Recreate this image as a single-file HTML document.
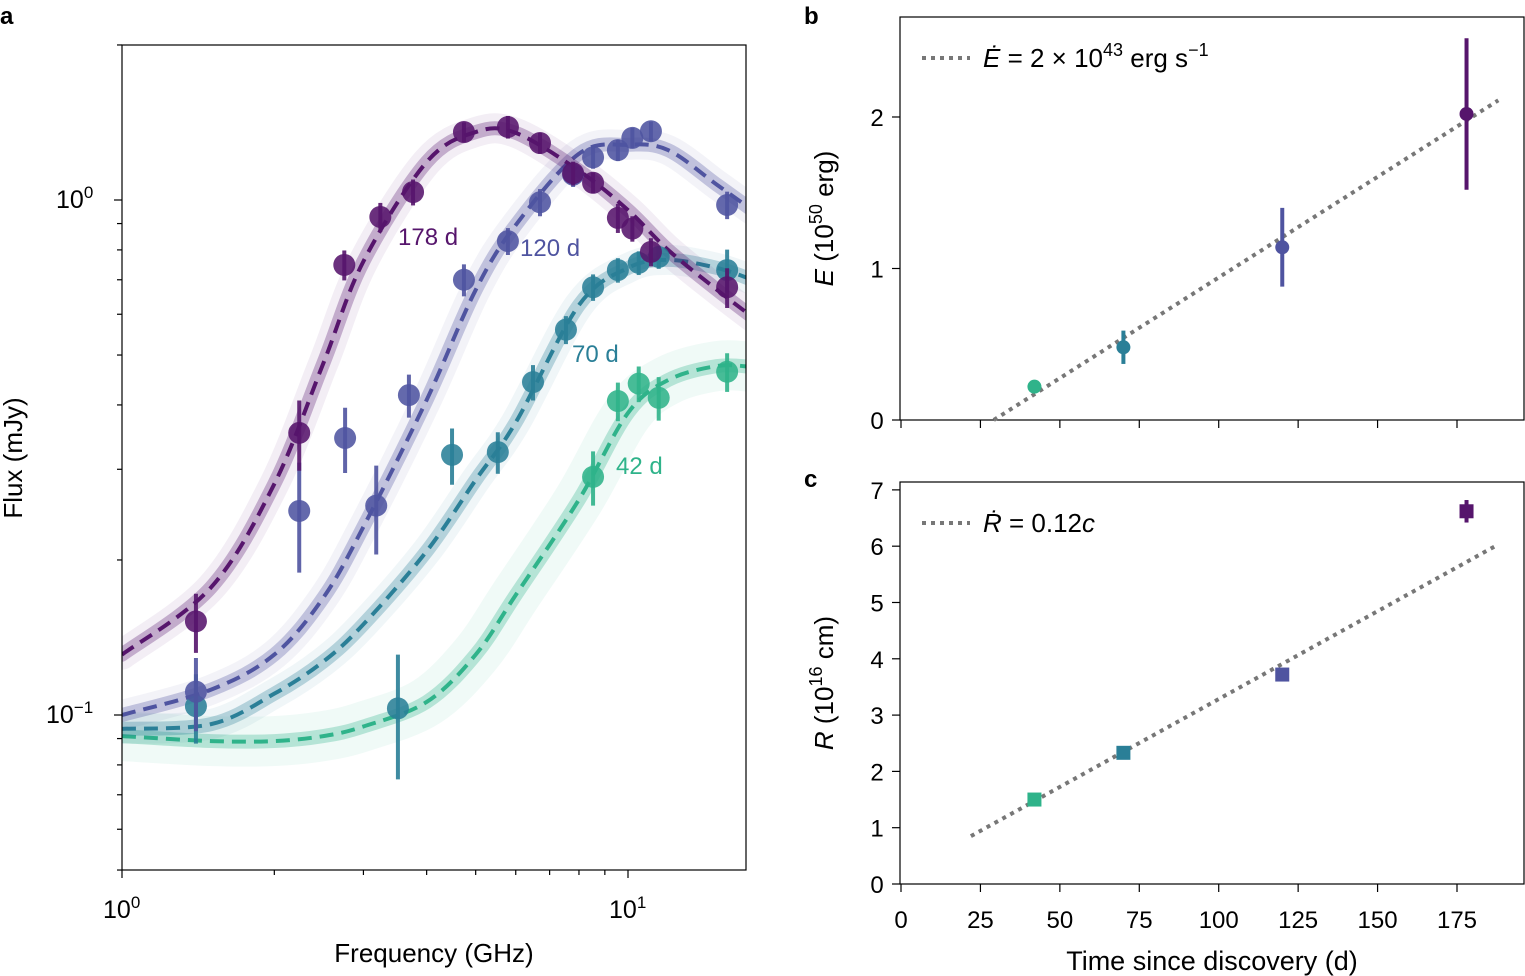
<!DOCTYPE html>
<html><head><meta charset="utf-8"><style>
html,body{margin:0;padding:0;background:#fff}
svg{display:block;font-family:"Liberation Sans",sans-serif}
</style></head><body>
<svg id="fig" width="1525" height="976" viewBox="0 0 1525 976">
<text x="0" y="24" font-size="24" font-weight="bold">a</text>
<text x="804" y="24" font-size="24" font-weight="bold">b</text>
<text x="804" y="487" font-size="24" font-weight="bold">c</text>
<g id="pa"></g>
<g id="pb"></g>
<g id="pc"></g>
</svg>
<script>
// ---------- Panel a data ----------
const epochs = ['178 d','120 d','70 d','42 d'];
const colors = ['#56156c','#4f54a0','#2a7f97','#2fb38a'];
const curveFreq = [1,1.5,2,2.5,3,4,5,6,8,10,12,15,17.6];
const curve178 = [0.131,0.177,0.281,0.482,0.76,1.185,1.355,1.35,1.14,0.956,0.80,0.669,0.593];
const curve120 = [0.100,0.112,0.131,0.169,0.232,0.409,0.669,0.894,1.23,1.28,1.25,1.07,0.956];
const curve70 = [0.094,0.096,0.110,0.127,0.150,0.208,0.286,0.37,0.625,0.738,0.765,0.738,0.70];
const curve42 = [0.091,0.089,0.089,0.091,0.095,0.106,0.131,0.171,0.262,0.386,0.447,0.476,0.474];
const freq178 = [1.40,2.24,2.75,3.24,3.76,4.74,5.79,6.70,7.79,8.53,9.55,10.2,11.1,15.7];
const flux178 = [0.152,0.353,0.748,0.927,1.036,1.355,1.386,1.29,1.127,1.08,0.923,0.88,0.793,0.677];
const err178 = [0.02,0.055,0.05,0.06,0.06,0.06,0.07,0.06,0.06,0.05,0.06,0.05,0.05,0.06];
const freq120 = [1.40,2.24,2.76,3.18,3.69,4.74,5.79,6.70,7.79,8.53,9.55,10.2,11.1,15.7];
const flux120 = [0.111,0.249,0.345,0.255,0.418,0.70,0.832,0.99,1.12,1.21,1.25,1.32,1.36,0.978];
const err120 = [0.018,0.06,0.05,0.05,0.04,0.05,0.05,0.06,0.06,0.06,0.06,0.06,0.06,0.06];
const freq70 = [1.40,3.51,4.49,5.53,6.49,7.54,8.53,9.55,10.5,11.5,15.7];
const flux70 = [0.104,0.103,0.32,0.324,0.443,0.56,0.677,0.731,0.755,0.775,0.731];
const err70 = [0.016,0.028,0.04,0.03,0.035,0.035,0.04,0.04,0.04,0.04,0.07];
const freq42 = [8.53,9.55,10.5,11.5,15.7];
const flux42 = [0.29,0.407,0.44,0.413,0.464];
const err42 = [0.035,0.035,0.035,0.04,0.04];
const xTicksA = ['0','1'];
const yTicksA = ['0','−1'];

// ---------- Panel b/c data ----------
const days = [42,70,120,178];
const energy = [0.22,0.48,1.14,2.02];
const energyErr = [0.04,0.11,0.26,0.5];
const eLineT = [29.2,188];
const eLineV = [0,2.11];
const radius = [1.5,2.33,3.72,6.62];
const radiusErr = [0.05,0.07,0.1,0.2];
const rLineT = [22,187];
const rLineV = [0.85,6.0];
const timeTicks = [0,25,50,75,100,125,150,175];
const eTicks = [0,1,2];
const rTicks = [0,1,2,3,4,5,6,7];

const NS='http://www.w3.org/2000/svg';
function mk(parent,tag,attrs,text){const e=document.createElementNS(NS,tag);for(const k in attrs)e.setAttribute(k,attrs[k]);if(text!==undefined)e.textContent=text;parent.appendChild(e);return e;}

const AX0=122,AX1=746,AY0=45,AY1=870;
const xa=f=>122+506*Math.log10(f);
const ya=v=>200-515*Math.log10(v);
const pa=document.getElementById('pa');
const clipDefs=mk(pa,'defs',{});
const cp=mk(clipDefs,'clipPath',{id:'clipA'});
mk(cp,'rect',{x:AX0,y:AY0,width:AX1-AX0,height:AY1-AY0});
function smoothPath(pts){let d='M'+pts[0][0]+','+pts[0][1];for(let i=0;i<pts.length-1;i++){const p0=pts[i-1]||pts[i],p1=pts[i],p2=pts[i+1],p3=pts[i+2]||p2;const c1=[p1[0]+(p2[0]-p0[0])/6,p1[1]+(p2[1]-p0[1])/6],c2=[p2[0]-(p3[0]-p1[0])/6,p2[1]-(p3[1]-p1[1])/6];d+=' C'+c1+' '+c2+' '+p2;}return d;}
const curves=[curve178,curve120,curve70,curve42];
const pts=[[freq178,flux178,err178],[freq120,flux120,err120],[freq70,flux70,err70],[freq42,flux42,err42]];
const gA=mk(pa,'g',{'clip-path':'url(#clipA)'});
for(let k=3;k>=0;k--){
  const p=curveFreq.map((f,i)=>[xa(f),ya(curves[k][i])]);
  const d=smoothPath(p);
  const halo=mk(gA,'path',{d:d,fill:'none',stroke:colors[k],'stroke-width':k==3?50:30,'stroke-opacity':0.07,'stroke-linecap':'round'});
  
  
  const band=mk(gA,'path',{d:d,fill:'none',stroke:colors[k],'stroke-width':14,'stroke-opacity':0.3,'stroke-linecap':'round'});
  
  
  const ln=mk(gA,'path',{d:d,fill:'none',stroke:colors[k],'stroke-width':4,'stroke-dasharray':'14 8'});
  
  
}
for(let k=3;k>=0;k--){
  const [fr,fl,er]=pts[k];
  fr.forEach((f,i)=>{
    const x=xa(f);
    const eb=mk(gA,'line',{x1:x,x2:x,y1:ya(fl[i]+er[i]),y2:ya(Math.max(fl[i]-er[i],0.01)),stroke:colors[k],'stroke-width':4,opacity:0.9});
    
    
    const c=mk(gA,'circle',{cx:x,cy:ya(fl[i]),r:11,fill:colors[k],'fill-opacity':0.88});
    
    
  });
}
mk(pa,'rect',{x:AX0,y:AY0,width:AX1-AX0,height:AY1-AY0,fill:'none',stroke:'#000','stroke-width':1.2,});
const lblPos=[[398,245],[520,256],[572,362],[616,474]];
epochs.forEach((e,k)=>{const t=mk(pa,'text',{x:lblPos[k][0],y:lblPos[k][1],'font-size':24,fill:colors[k]},e);

});
for(let dec=0;dec<2;dec++){for(let m=1;m<10;m++){const f=m*Math.pow(10,dec);if(f>17.6)break;const x=xa(f);mk(pa,'line',{x1:x,x2:x,y1:AY1,y2:AY1+(m==1?8:5),stroke:'#000','stroke-width':1.2});}}
xTicksA.forEach((t,i)=>{const x=xa(Math.pow(10,i));const tx=mk(pa,'text',{x:x-19,y:918,'font-size':25},'10');mk(tx,'tspan',{dy:-10,'font-size':17},t);

});
for(let dec=-2;dec<1;dec++){for(let m=1;m<10;m++){const v=m*Math.pow(10,dec);if(v<0.05||v>2)continue;const y=ya(v);mk(pa,'line',{x1:AX0,x2:AX0-(m==1?8:5),y1:y,y2:y,stroke:'#000','stroke-width':1.2});}}
yTicksA.forEach((t,i)=>{const y=ya(Math.pow(10,-i));const tx=mk(pa,'text',{x:i?46:56,y:y+8,'font-size':25},'10');mk(tx,'tspan',{dy:-10,'font-size':17},t);

});
mk(pa,'text',{x:434,y:962,'font-size':26,'text-anchor':'middle',},'Frequency (GHz)');
mk(pa,'text',{x:0,y:0,'font-size':26,'text-anchor':'middle',transform:'translate(22,458) rotate(-90)',},'Flux (mJy)');

const xt=t=>901+t*(556/175);
function panel(g,top,bot,ymax,ticks,vals,errs,lt,lv,square,legendMain,legendSup,legendEnd,ytitle,ysup,yunit,showXLabels){
  const yv=v=>bot-(bot-top)*v/ymax;
  mk(g,'rect',{x:900,y:top,width:624,height:bot-top,fill:'none',stroke:'#000','stroke-width':1.2});
  ticks.forEach(v=>{const y=yv(v);mk(g,'line',{x1:900,x2:892,y1:y,y2:y,stroke:'#000','stroke-width':1.2});const t=mk(g,'text',{x:877,y:y+9,'font-size':24,'text-anchor':'middle'},String(v));
  
  });
  timeTicks.forEach(v=>{const x=xt(v);mk(g,'line',{x1:x,x2:x,y1:bot,y2:bot+8,stroke:'#000','stroke-width':1.2});if(showXLabels){const t=mk(g,'text',{x:x,y:bot+44,'font-size':24,'text-anchor':'middle'},String(v));
  
  }});
  const tl=mk(g,'line',{x1:xt(lt[0]),y1:yv(lv[0]),x2:xt(lt[1]),y2:yv(lv[1]),stroke:'#777','stroke-width':4,'stroke-dasharray':'4 5'});
  
  
  days.forEach((d,i)=>{const c=colors[3-i];const x=xt(d);
    const e=mk(g,'line',{x1:x,x2:x,y1:yv(vals[i]+errs[i]),y2:yv(vals[i]-errs[i]),stroke:c,'stroke-width':4});
    
    
    let m;
    if(square){m=mk(g,'rect',{x:x-7,y:yv(vals[i])-7,width:14,height:14,fill:c});}
    else{m=mk(g,'circle',{cx:x,cy:yv(vals[i]),r:7,fill:c});}
    
    
  });
  const ly=top+41;
  mk(g,'line',{x1:922,x2:970,y1:ly,y2:ly,stroke:'#777','stroke-width':4,'stroke-dasharray':'4 5',});
  const lt2=mk(g,'text',{x:983,y:ly+9,'font-size':26,});
  lt2.innerHTML=legendMain;
  if(legendSup){mk(lt2,'tspan',{dy:-11,'font-size':18},legendSup);mk(lt2,'tspan',{dy:11},legendEnd[0]);mk(lt2,'tspan',{dy:-11,'font-size':18},legendEnd[1]);}
  const yt=mk(g,'text',{'font-size':26,'text-anchor':'middle',transform:'translate(833,'+((top+bot)/2)+') rotate(-90)',});
  mk(yt,'tspan',{'font-style':'italic'},ytitle);mk(yt,'tspan',{},' (10');mk(yt,'tspan',{dy:-11,'font-size':18},ysup);mk(yt,'tspan',{dy:11},' '+yunit+')');
}
panel(document.getElementById('pb'),17,420,2.66,eTicks,energy,energyErr,eLineT,eLineV,false,
 '<tspan font-style="italic">Ė</tspan> = 2 × 10','43',[' erg s','−1'],'E','50','erg',false);
panel(document.getElementById('pc'),482,884,7.14,rTicks,radius,radiusErr,rLineT,rLineV,true,
 '<tspan font-style="italic">Ṙ</tspan> = 0.12<tspan font-style="italic">c</tspan>',null,null,'R','16','cm',true);
mk(document.getElementById('pc'),'text',{x:1212,y:970,'font-size':27,'text-anchor':'middle',},'Time since discovery (d)');
</script>
</body></html>
